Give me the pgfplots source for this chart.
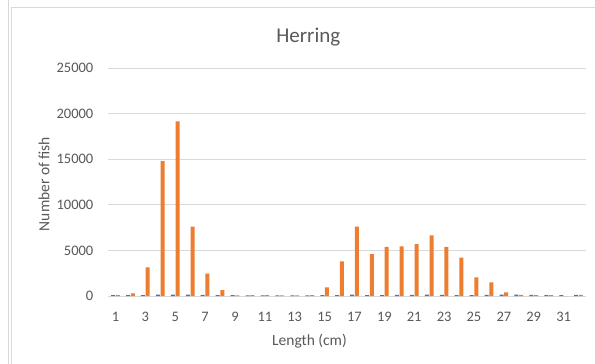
\documentclass[border=0pt]{standalone}
\usepackage{pgfplots}
\pgfplotsset{compat=1.18}
\usepackage{pgfplotstable}
\usepackage{fontspec}
\setmainfont{Carlito}
\definecolor{txt}{HTML}{595959}
\definecolor{gridc}{HTML}{D9D9D9}
\definecolor{sblue}{HTML}{4472C4}
\definecolor{sorange}{HTML}{ED7D31}
\pgfplotstableread{
x blue orange
1 100 100
2 100 300
3 100 3150
4 150 14800
5 150 19150
6 150 7600
7 120 2450
8 100 650
9 100 80
10 80 100
11 80 100
12 80 80
13 80 80
14 80 100
15 100 950
16 100 3800
17 150 7600
18 100 4600
19 100 5400
20 120 5450
21 120 5700
22 150 6650
23 120 5400
24 100 4200
25 100 2050
26 120 1500
27 150 400
28 150 120
29 120 100
30 100 100
31 100 0
32 120 120
}\herring
\begin{document}
\begin{tikzpicture}[x=1bp,y=1bp]
\useasboundingbox (0,0) rectangle (595,363);
\fill[white] (0,0) rectangle (595,363);
\draw[gridc, line width=1bp] (8,-2) -- (8,365);
\draw[gridc, line width=1bp] (11,-2) -- (11,355) -- (600,355);
\begin{axis}[
  at={(108bp,67bp)}, anchor=south west,
  scale only axis, width=478bp, height=228bp,
  xmin=0.5, xmax=32.5, ymin=0, ymax=25000,
  ybar=0.7bp, bar width=4bp,
  axis line style={draw=none},
  major tick length=0pt, tick style={draw=none},
  ymajorgrids, grid style={gridc, line width=1bp},
  ytick={0,5000,...,25000},
  xtick={1,3,...,31},
  /pgf/number format/assume math mode=true,
  /pgf/number format/1000 sep={},
  scaled y ticks=false,
  ticklabel style={font=\fontsize{14.5bp}{17bp}\selectfont, text=txt, inner sep=0pt},
  yticklabel style={anchor=east, xshift=-14.5bp},
  xticklabel style={anchor=center, yshift=-20.5bp},
  clip=false,
]
\addplot[draw=none, fill=sblue] table[x=x, y=blue] {\herring};
\addplot[draw=none, fill=sorange] table[x=x, y=orange] {\herring};
\end{axis}
\node[txt, anchor=base, font=\fontsize{21bp}{24bp}\selectfont, inner sep=0pt] at (308.3,320.7) {Herring};
\node[txt, anchor=base, font=\fontsize{15.5bp}{18bp}\selectfont, inner sep=0pt] at (309.5,17.3) {Length (cm)};
\node[txt, anchor=base, rotate=90, font=\fontsize{15.5bp}{18bp}\selectfont, inner sep=0pt] at (49.3,179) {Number of fish};
\end{tikzpicture}
\end{document}
